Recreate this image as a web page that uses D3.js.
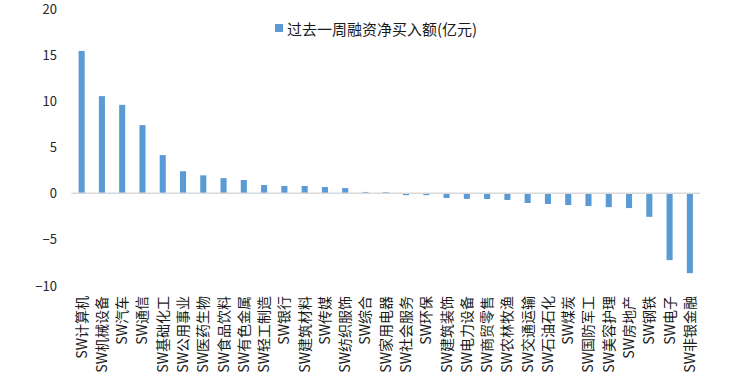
<!DOCTYPE html>
<html><head><meta charset="utf-8">
<script src="https://cdn.jsdelivr.net/npm/d3@7/dist/d3.min.js"></script>
<style>body{margin:0;background:#fff}svg{display:block}</style>
</head><body>
<script>
const categories = ["SW计算机","SW机械设备","SW汽车","SW通信","SW基础化工","SW公用事业","SW医药生物","SW食品饮料","SW有色金属","SW轻工制造","SW银行","SW建筑材料","SW传媒","SW纺织服饰","SW综合","SW家用电器","SW社会服务","SW环保","SW建筑装饰","SW电力设备","SW商贸零售","SW农林牧渔","SW交通运输","SW石油石化","SW煤炭","SW国防军工","SW美容护理","SW房地产","SW钢铁","SW电子","SW非银金融"];
const values = [15.45,10.55,9.6,7.4,4.15,2.4,1.95,1.65,1.45,0.9,0.8,0.8,0.68,0.57,0.15,0.13,-0.2,-0.2,-0.5,-0.6,-0.62,-0.72,-1.05,-1.15,-1.27,-1.38,-1.5,-1.6,-2.55,-7.25,-8.66];
const yTicks = [20,15,10,5,0,-5,-10];
const seriesName = "过去一周融资净买入额(亿元)";

const W = 732, H = 377;
const font = "'Noto Sans CJK SC','Noto Sans',sans-serif";
const svg = d3.select("body").append("svg").attr("width", W).attr("height", H);

const x = d3.scaleBand().domain(categories).range([71.5, 700]).paddingInner(0.7).paddingOuter(0.35);
const y = d3.scaleLinear().domain([-10, 20]).range([285.5, 9]);

// bars
svg.append("g").selectAll("rect").data(categories).join("rect")
  .attr("x", d => x(d))
  .attr("width", x.bandwidth())
  .attr("y", (d, i) => y(Math.max(0, values[i])))
  .attr("height", (d, i) => Math.abs(y(values[i]) - y(0)))
  .attr("fill", "#5B9BD5");

// zero axis line
svg.append("line").attr("x1", 71.5).attr("x2", 700).attr("y1", y(0)).attr("y2", y(0))
  .attr("stroke", "#D9D9D9").attr("stroke-width", 1.5);

// y axis labels
const yAxis = d3.axisLeft(y).tickValues(yTicks).tickSize(0).tickPadding(0).tickFormat(d3.format("d"));
const ga = svg.append("g").attr("transform", "translate(57,0)").call(yAxis);
ga.select(".domain").remove();
ga.selectAll("text").attr("font-family", font).attr("font-size", 13).attr("fill", "#262626").attr("dy", "0.35em");

// category labels
svg.append("g").selectAll("text").data(categories).join("text")
  .attr("transform", d => `translate(${x(d) + x.bandwidth()/2 - 1},296) rotate(-90)`)
  .attr("text-anchor", "end")
  .attr("dominant-baseline", "central")
  .attr("font-family", font).attr("font-size", 14).attr("fill", "#1a1a1a")
  .text(d => d);

// legend
svg.append("rect").attr("x", 275).attr("y", 24).attr("width", 8).attr("height", 8).attr("fill", "#5B9BD5");
svg.append("text").attr("x", 287).attr("y", 28).attr("dominant-baseline", "central")
  .attr("font-family", font).attr("font-size", 15).attr("fill", "#1a1a1a").text(seriesName);
</script>
</body></html>
